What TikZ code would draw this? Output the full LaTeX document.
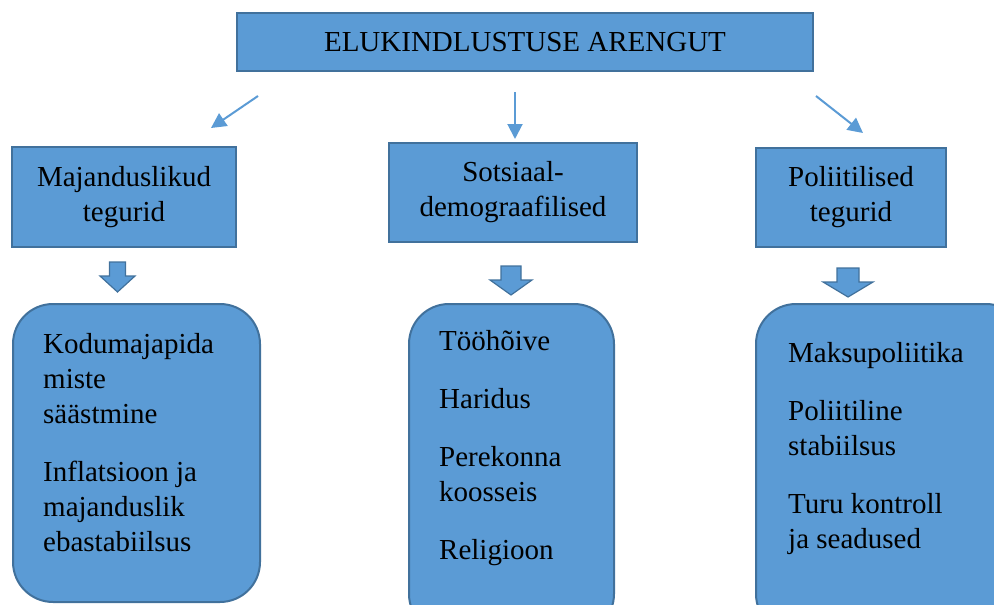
\documentclass[tikz,border=0pt]{standalone}
\usepackage{fontspec}
\setmainfont{Liberation Serif}
\usepackage{xcolor}
\usetikzlibrary{arrows.meta,positioning}
\definecolor{boxblue}{HTML}{5B9BD5}
\definecolor{boxline}{HTML}{41719C}

\begin{document}
\begin{tikzpicture}[
    x=1pt, y=-1pt,
    every node/.style={font=\fontsize{29}{35}\selectfont, text=black},
    titlebox/.style={rectangle, draw=boxline, fill=boxblue, line width=2pt, minimum width=576pt, minimum height=58pt, inner sep=0pt},
    factor/.style={rectangle, draw=boxline, fill=boxblue, line width=2pt, align=center, inner sep=0pt},
    listbox/.style={rectangle, rounded corners=40pt, draw=boxline, fill=boxblue, line width=2pt, anchor=north west},
    items/.style={align=left, anchor=north west, inner sep=0pt},
    link/.style={-{Triangle[length=15pt,width=15pt]}, line width=2pt, boxblue},
    blockarrow/.style={draw=boxline, fill=boxblue, line width=1.2pt, line join=miter}
]
    \useasboundingbox (0,0) rectangle (994,605);
    \clip (0,0) rectangle (994,605);

    % Title
    \node[titlebox] (title) at (525,42) {ELUKINDLUSTUSE ARENGUT};

    % Factor groups
    \node[factor, minimum width=224pt, minimum height=100pt] (econ) at (124,197) {Majanduslikud\\tegurid};
    \node[factor, minimum width=248pt, minimum height=99pt] (social) at (513,192.5) {Sotsiaal-\\demograafilised};
    \node[factor, minimum width=190pt, minimum height=99pt] (polit) at (851,197.5) {Poliitilised\\tegurid};

    % Thin arrows from the title
    \coordinate (econfrom) at (258,96);
    \coordinate (econto) at (211,128);
    \coordinate (socialfrom) at (515,92);
    \coordinate (socialto) at (515,139);
    \coordinate (politfrom) at (816,96);
    \coordinate (polito) at (863,133);
    \draw[link] (econfrom) -- (econto);
    \draw[link] (socialfrom) -- (socialto);
    \draw[link] (politfrom) -- (polito);

    % Block arrows
    \coordinate (econdown) at (117.5,262);
    \coordinate (socialdown) at (511,266);
    \coordinate (politdown) at (848,268);
    \draw[blockarrow] (econdown) ++(-8,0) -- ++(16,0) -- ++(0,14) -- ++(9.5,0) -- ++(-17.5,16) -- ++(-17.5,-16) -- ++(9.5,0) -- cycle;
    \draw[blockarrow] (socialdown) ++(-10,0) -- ++(20,0) -- ++(0,14) -- ++(11,0) -- ++(-21,15) -- ++(-21,-15) -- ++(11,0) -- cycle;
    \draw[blockarrow] (politdown) ++(-11,0) -- ++(22,0) -- ++(0,14) -- ++(14,0) -- ++(-25,15) -- ++(-25,-15) -- ++(14,0) -- cycle;

    % Lists
    \node[listbox, minimum width=247pt, minimum height=298pt] (econlist) at (12,303) {};
    \node[listbox, minimum width=205pt, minimum height=330pt] (sociallist) at (408,303) {};
    \node[listbox, minimum width=270pt, minimum height=330pt] (politlist) at (755,303) {};

    \node[items] (econitems) at (43,333.5) {Kodumajapida\\miste\\säästmine\\[23pt]Inflatsioon ja\\majanduslik\\ebastabiilsus};
    \node[items] (socialitems) at (439,330.5) {Tööhõive\\[23pt]Haridus\\[23pt]Perekonna\\koosseis\\[23pt]Religioon};
    \node[items] (polititems) at (788,342.5) {Maksupoliitika\\[23pt]Poliitiline\\stabiilsus\\[23pt]Turu kontroll\\ja seadused};

\end{tikzpicture}
\end{document}
